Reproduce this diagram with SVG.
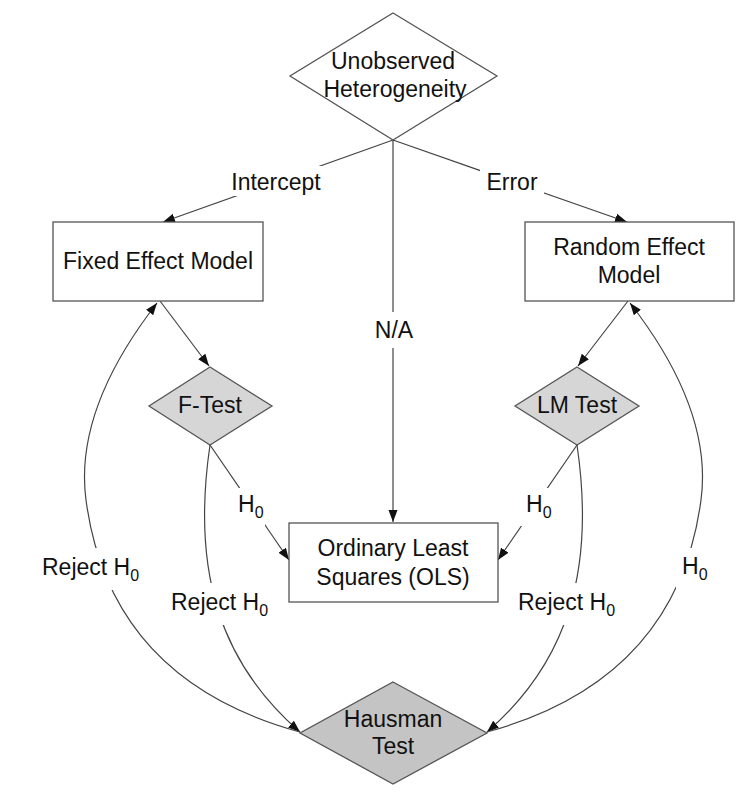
<svg xmlns="http://www.w3.org/2000/svg" width="739" height="799" viewBox="0 0 739 799">
<defs>
<marker id="arr" markerWidth="13" markerHeight="10" refX="12" refY="5" orient="auto" markerUnits="userSpaceOnUse">
<path d="M0,0.5 L12,5 L0,9.5 Z" fill="#111"/>
</marker>
<style>
.t{font-family:"Liberation Sans",Arial,sans-serif;font-size:23px;fill:#111;text-anchor:middle}
.l{font-family:"Liberation Sans",Arial,sans-serif;font-size:23px;fill:#111;text-anchor:start}
.sub{font-size:16px}
.box{fill:#fff;stroke:#555;stroke-width:1.3}
.dw{fill:#fff;stroke:#555;stroke-width:1.3}
.dg{fill:#d6d6d6;stroke:#555;stroke-width:1.3}
.dh{fill:#c4c4c4;stroke:#555;stroke-width:1.3}
.c{fill:none;stroke:#444;stroke-width:1.2}
.bg{fill:#fff}
</style>
</defs>
<rect width="739" height="799" fill="#fff"/>
<g id="connectors">
<line class="c" x1="393" y1="140" x2="163" y2="222" marker-end="url(#arr)"/>
<line class="c" x1="393" y1="140" x2="627" y2="222" marker-end="url(#arr)"/>
<line class="c" x1="393" y1="140" x2="393" y2="522" marker-end="url(#arr)"/>
<line class="c" x1="160" y1="301" x2="209" y2="366" marker-end="url(#arr)"/>
<line class="c" x1="628" y1="301" x2="578" y2="366" marker-end="url(#arr)"/>
<line class="c" x1="210" y1="445" x2="289" y2="560" marker-end="url(#arr)"/>
<line class="c" x1="577" y1="445" x2="498" y2="560" marker-end="url(#arr)"/>
<path class="c" d="M210,445 Q196,540 218,610 Q240,680 300,732" marker-end="url(#arr)"/>
<path class="c" d="M577,445 Q591,540 569,610 Q547,680 487,732" marker-end="url(#arr)"/>
<path class="c" d="M300,732 Q110,680 86,500 Q74,410 157,303" marker-end="url(#arr)"/>
<path class="c" d="M487,732 Q677,680 701,500 Q713,410 630,303" marker-end="url(#arr)"/>
<rect class="bg" x="224" y="166" width="104" height="30"/>
<rect class="bg" x="480" y="166" width="64" height="30"/>
<rect class="bg" x="370" y="312" width="46" height="36"/>
<rect class="bg" x="233" y="488" width="32" height="38"/>
<rect class="bg" x="521" y="488" width="32" height="38"/>
<rect class="bg" x="36" y="548" width="110" height="42"/>
<rect class="bg" x="165" y="583" width="108" height="42"/>
<rect class="bg" x="514" y="583" width="108" height="42"/>
<rect class="bg" x="676" y="548" width="36" height="42"/>
<text class="t" x="276" y="190">Intercept</text>
<text class="t" x="512" y="190">Error</text>
<text class="t" x="394" y="338">N/A</text>
<text class="l" x="238" y="512">H<tspan class="sub" dy="6">0</tspan></text>
<text class="l" x="526" y="512">H<tspan class="sub" dy="6">0</tspan></text>
<text class="l" x="42" y="575">Reject H<tspan class="sub" dy="6">0</tspan></text>
<text class="l" x="171" y="610">Reject H<tspan class="sub" dy="6">0</tspan></text>
<text class="l" x="518" y="610">Reject H<tspan class="sub" dy="6">0</tspan></text>
<text class="l" x="682" y="574">H<tspan class="sub" dy="6">0</tspan></text>
</g>
<g id="unobserved">
<polygon class="dw" points="393,13 497,76 393,140 290,76"/>
<text class="t" x="393" y="69">Unobserved</text>
<text class="t" x="395" y="97">Heterogeneity</text>
</g>
<g id="fixed">
<rect class="box" x="53" y="222" width="210" height="79"/>
<text class="t" x="158" y="269">Fixed Effect Model</text>
</g>
<g id="random">
<rect class="box" x="525" y="222" width="209" height="79"/>
<text class="t" x="629" y="255">Random Effect</text>
<text class="t" x="629" y="283">Model</text>
</g>
<g id="ftest">
<polygon class="dg" points="210,367 272,406 210,445 149,406"/>
<text class="t" x="210" y="413">F-Test</text>
</g>
<g id="lmtest">
<polygon class="dg" points="577,367 639,406 577,445 515,406"/>
<text class="t" x="577" y="413">LM Test</text>
</g>
<g id="ols">
<rect class="box" x="289" y="523" width="209" height="79"/>
<text class="t" x="393" y="556">Ordinary Least</text>
<text class="t" x="393" y="585">Squares (OLS)</text>
</g>
<g id="hausman">
<polygon class="dh" points="393,682 487,733 393,784 300,733"/>
<text class="t" x="393" y="727">Hausman</text>
<text class="t" x="393" y="754">Test</text>
</g>
</svg>
